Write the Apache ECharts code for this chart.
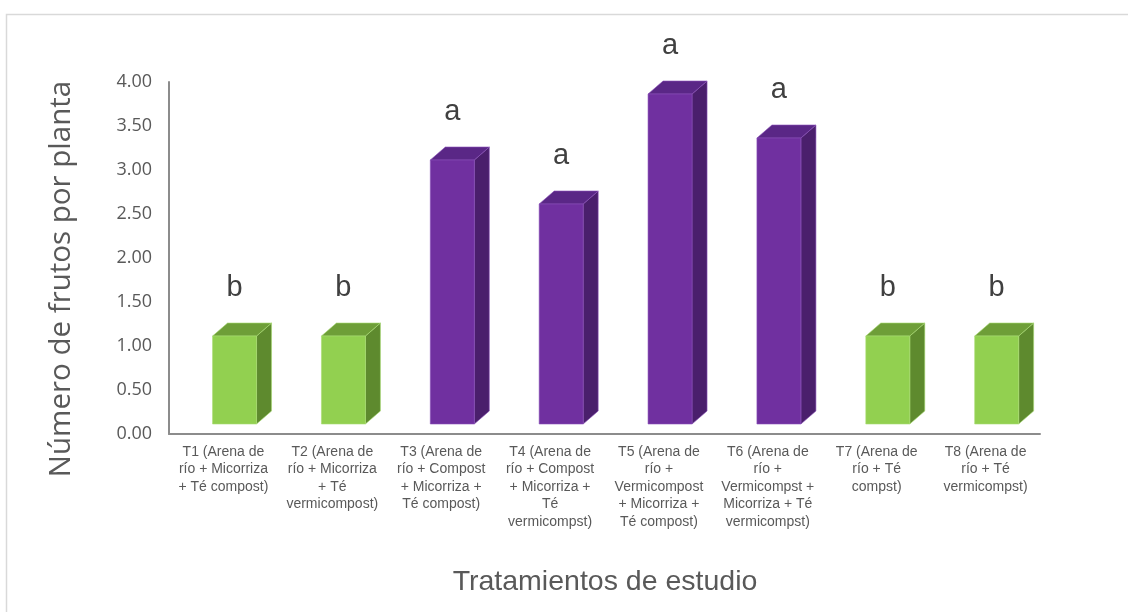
<!DOCTYPE html>
<html>
<head>
<meta charset="utf-8">
<script src="https://cdn.jsdelivr.net/npm/echarts@6/dist/echarts.min.js"></script>
<style>
html,body{margin:0;padding:0;background:#fff;}
#chart{width:1128px;height:612px;}
</style>
</head>
<body>
<div id="chart"></div>
<script>
const categories = [
  "T1 (Arena de\nrío + Micorriza\n+ Té compost)",
  "T2 (Arena de\nrío + Micorriza\n+ Té\nvermicompost)",
  "T3 (Arena de\nrío + Compost\n+ Micorriza +\nTé compost)",
  "T4 (Arena de\nrío + Compost\n+ Micorriza +\nTé\nvermicompst)",
  "T5 (Arena de\nrío +\nVermicompost\n+ Micorriza +\nTé compost)",
  "T6 (Arena de\nrío +\nVermicompst +\nMicorriza + Té\nvermicompst)",
  "T7 (Arena de\nrío + Té\ncompst)",
  "T8 (Arena de\nrío + Té\nvermicompst)"
];
const values = [1.00, 1.00, 3.00, 2.50, 3.75, 3.25, 1.00, 1.00];
const groups = ["b", "b", "a", "a", "a", "a", "b", "b"];
const yTicks = [0, 0.5, 1, 1.5, 2, 2.5, 3, 3.5, 4];

const palette = {
  b: {front: "#92D050", top: "#6E9E38", side: "#5E8A2E", edge: "#A9DC74"},
  a: {front: "#7030A0", top: "#5A2786", side: "#4A1F6C", edge: "#8A50B8"}
};

const chart = echarts.init(document.getElementById('chart'));

function renderItem(params, api) {
  const idx = api.value(0);
  const v = api.value(1);
  const top = api.coord([idx, v]);
  const base = api.coord([idx, 0]);
  const bw = api.size([1, 0])[0];
  const lift = 10, dx = 15, dy = 13;
  const w = bw * 0.404;
  const x0 = top[0] - bw * 0.1;
  const yt = top[1] - lift;
  const yb = base[1] - lift;
  const c = palette[groups[idx]];
  return {
    type: 'group',
    children: [
      {type: 'polygon', shape: {points: [[x0 + w, yt], [x0 + w + dx, yt - dy], [x0 + w + dx, yb - dy], [x0 + w, yb]]},
       style: {fill: c.side, stroke: c.edge, lineWidth: 0.6}},
      {type: 'polygon', shape: {points: [[x0, yt], [x0 + w, yt], [x0 + w + dx, yt - dy], [x0 + dx, yt - dy]]},
       style: {fill: c.top, stroke: c.edge, lineWidth: 0.6}},
      {type: 'rect', shape: {x: x0, y: yt, width: w, height: yb - yt},
       style: {fill: c.front, stroke: c.edge, lineWidth: 0.6}},
      {type: 'text', x: x0 + w / 2, y: yt - 48,
       style: {text: groups[idx], fill: '#404040', font: '29px "Liberation Sans", Arial, sans-serif',
               align: 'center', verticalAlign: 'middle'}}
    ]
  };
}

chart.setOption({
  backgroundColor: '#ffffff',
  animation: false,
  grid: {left: 169, right: 88, top: 82, bottom: 178, containLabel: false},
  xAxis: {
    type: 'category',
    data: categories,
    axisLine: {show: true, lineStyle: {color: '#8C8C8C', width: 2}},
    axisTick: {show: false},
    axisLabel: {
      interval: 0, color: '#595959', fontSize: 14, lineHeight: 17.5,
      fontFamily: '"Liberation Sans", Arial, sans-serif', margin: 9, align: 'center', verticalAlign: 'top'
    }
  },
  yAxis: {
    type: 'value',
    min: 0, max: 4, interval: 0.5,
    axisLine: {show: true, lineStyle: {color: '#8C8C8C', width: 2}},
    axisTick: {show: false},
    splitLine: {show: false},
    axisLabel: {
      color: '#595959', fontSize: 18, margin: 17,
      fontFamily: '"Open Sans", sans-serif',
      formatter: v => yTicks.includes(v) ? v.toFixed(2) : ''
    }
  },
  graphic: [
    {type: 'rect', left: 4, top: 12, shape: {width: 1300, height: 800},
     style: {fill: 'none', stroke: '#D9D9D9', lineWidth: 1.5}, silent: true, z: -1},
    {type: 'text', x: 62, y: 279, rotation: Math.PI / 2,
     style: {text: 'Número de frutos por planta', fill: '#595959',
             font: '29.5px "Open Sans", sans-serif', align: 'center', verticalAlign: 'middle'}},
    {type: 'text', x: 605, y: 582,
     style: {text: 'Tratamientos de estudio', fill: '#595959',
             font: '28.5px "Liberation Sans", Arial, sans-serif', align: 'center', verticalAlign: 'middle'}}
  ],
  series: [{
    type: 'custom',
    renderItem: renderItem,
    data: values.map((v, i) => [i, v]),
    clip: false
  }]
});
</script>
</body>
</html>
